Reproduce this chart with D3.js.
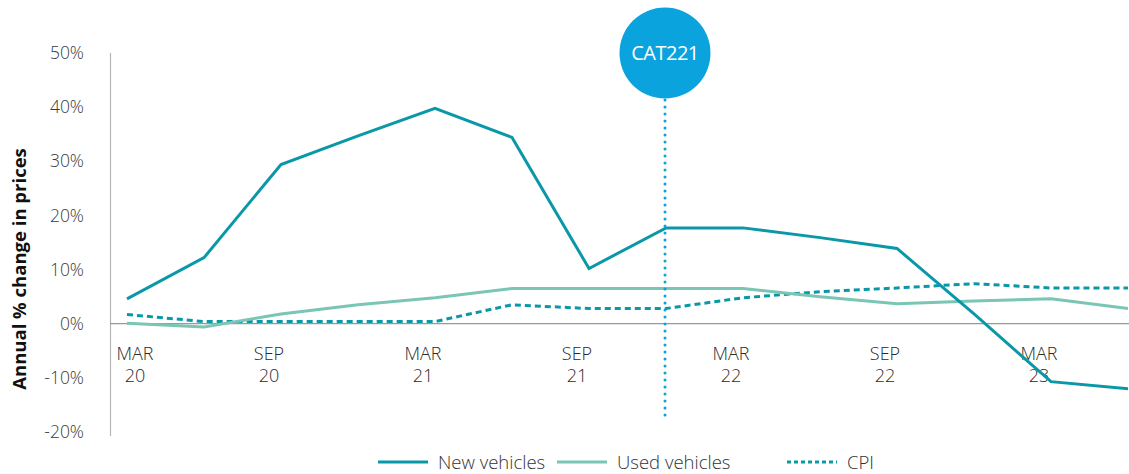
<!DOCTYPE html>
<html>
<head>
<meta charset="utf-8">
<script src="https://cdn.jsdelivr.net/npm/d3@7"></script>
<style>
  html, body { margin: 0; padding: 0; background: #fff; }
  svg { display: block; font-family: "Open Sans", "Noto Sans", sans-serif; }
</style>
</head>
<body>
<svg id="chart" width="1129" height="474"></svg>
<script>
// Quarterly observations, March 2020 onwards
const quarters = ["MAR 20","JUN 20","SEP 20","DEC 20","MAR 21","JUN 21","SEP 21","DEC 21",
                  "MAR 22","JUN 22","SEP 22","DEC 22","MAR 23","JUN 23"];
const newVehicles  = [4.6, 12.2, 29.4, 34.7, 39.8, 34.4, 10.2, 17.7, 17.7, 15.9, 13.9, 1.8, -10.7, -12.0];
const usedVehicles = [0.1, -0.6, 1.8, 3.5, 4.8, 6.5, 6.5, 6.5, 6.5, 5.0, 3.7, 4.2, 4.6, 2.8];
const cpi          = [1.7, 0.4, 0.4, 0.4, 0.4, 3.5, 2.8, 2.8, 4.8, 5.9, 6.6, 7.4, 6.6, 6.6];
const yTicks = [-20, -10, 0, 10, 20, 30, 40, 50];
const xTickIdx = [0, 2, 4, 6, 8, 10, 12];
const xTickLabels = [["MAR","20"],["SEP","20"],["MAR","21"],["SEP","21"],["MAR","22"],["SEP","22"],["MAR","23"]];
const markerIdx = 7;
const markerLabel = "CAT221";
const seriesNames = ["New vehicles", "Used vehicles", "CPI"];

const svg = d3.select("#chart");
const colNew = "#0a98a8", colUsed = "#7ac5b4", colMarker = "#0aa3dd";

const x = d3.scaleLinear().domain([0, quarters.length - 1]).range([127, 1128]);
const y = d3.scaleLinear().domain([-20, 50]).range([432, 53]);

// left axis line
svg.append("line").attr("x1", 110.5).attr("x2", 110.5).attr("y1", 53).attr("y2", 436)
  .attr("stroke", "#b5b5b5").attr("stroke-width", 1.2);

// y tick labels
const yAxis = d3.axisLeft(y).tickValues(yTicks).tickFormat(d => d + "%").tickSize(0).tickPadding(0);
const gy = svg.append("g").attr("transform", "translate(84,0)").call(yAxis);
gy.select(".domain").remove();
gy.selectAll("text").attr("font-size", 17.5).attr("fill", "#3a3a3a").attr("font-weight", 300)
  .attr("font-family", "'Open Sans', sans-serif");

// zero line
svg.append("line").attr("x1", 110).attr("x2", 1129).attr("y1", y(0)).attr("y2", y(0))
  .attr("stroke", "#999").attr("stroke-width", 1.2);

// x tick labels (two lines each)
const xl = svg.append("g");
xTickIdx.forEach((idx, k) => {
  const cx = x(idx) + (k === 0 ? 8 : -12);
  const t = xl.append("text").attr("text-anchor", "middle").attr("font-size", 18)
    .attr("fill", "#2a2a2a").attr("font-weight", 300);
  t.append("tspan").attr("x", cx).attr("y", 360).text(xTickLabels[k][0]);
  t.append("tspan").attr("x", cx).attr("y", 382).text(xTickLabels[k][1]);
});

// y title
svg.append("text").attr("transform", "translate(26,269) rotate(-90)")
  .attr("text-anchor", "middle").attr("font-size", 18.5).attr("font-weight", 700)
  .attr("fill", "#111").text("Annual % change in prices");

const line = d3.line().x((d, i) => x(i)).y(d => y(d));

svg.append("path").datum(cpi).attr("d", line).attr("fill", "none")
  .attr("stroke", colNew).attr("stroke-width", 3).attr("stroke-dasharray", "6 4");
svg.append("path").datum(usedVehicles).attr("d", line).attr("fill", "none")
  .attr("stroke", colUsed).attr("stroke-width", 3);
svg.append("path").datum(newVehicles).attr("d", line).attr("fill", "none")
  .attr("stroke", colNew).attr("stroke-width", 3).attr("stroke-linejoin", "miter");

// marker: dotted vertical line with labelled circle
const mx = x(markerIdx) - 1;
svg.append("line").attr("x1", mx).attr("x2", mx).attr("y1", 100).attr("y2", 421)
  .attr("stroke", colMarker).attr("stroke-width", 3).attr("stroke-linecap", "round")
  .attr("stroke-dasharray", "0.1 6.9");
svg.append("circle").attr("cx", mx).attr("cy", 53).attr("r", 45.5).attr("fill", colMarker);
svg.append("text").attr("x", mx).attr("y", 60).attr("text-anchor", "middle")
  .attr("font-size", 20).attr("fill", "#fff").attr("letter-spacing", -0.5).text(markerLabel);

// legend
const legend = [
  {name: seriesNames[0], color: colNew, dash: null, x: 378},
  {name: seriesNames[1], color: colUsed, dash: null, x: 557},
  {name: seriesNames[2], color: colNew, dash: "4 3", x: 787}
];
legend.forEach(l => {
  svg.append("line").attr("x1", l.x).attr("x2", l.x + 50).attr("y1", 462).attr("y2", 462)
    .attr("stroke", l.color).attr("stroke-width", 3).attr("stroke-dasharray", l.dash);
  svg.append("text").attr("x", l.x + 60).attr("y", 469).attr("font-size", 18.5)
    .attr("fill", "#333").attr("font-weight", 300).text(l.name);
});
</script>
</body>
</html>
